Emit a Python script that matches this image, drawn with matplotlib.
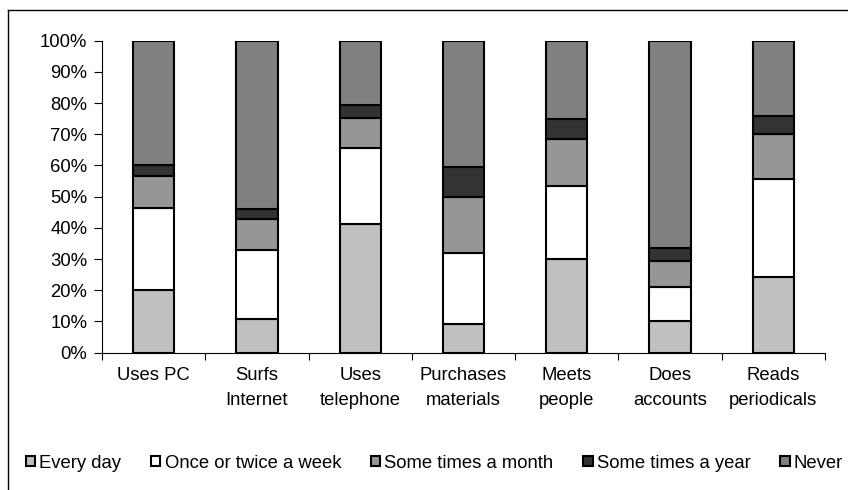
import matplotlib
matplotlib.use("Agg")
import matplotlib.pyplot as plt
from matplotlib.patches import Patch
from matplotlib.lines import Line2D
import numpy as np

plt.rcParams['font.family'] = ['Liberation Sans', 'DejaVu Sans']

categories = ["Uses PC", "Surfs\nInternet", "Uses\ntelephone", "Purchases\nmaterials",
              "Meets\npeople", "Does\naccounts", "Reads\nperiodicals"]
series_names = ["Every day", "Once or twice a week", "Some times a month",
                "Some times a year", "Never"]
every_day = [20.0, 10.8, 41.2, 9.2, 30.1, 10.3, 24.4]
once_twice_week = [26.3, 22.1, 24.3, 22.6, 23.3, 10.6, 31.4]
times_month = [10.4, 9.8, 9.6, 18.2, 15.2, 8.6, 14.4]
times_year = [3.4, 3.2, 4.3, 9.6, 6.2, 4.2, 5.7]
never = [39.9, 54.1, 20.6, 40.4, 25.2, 66.3, 24.1]
series_values = [every_day, once_twice_week, times_month, times_year, never]
colors = ["#C0C0C0", "#FFFFFF", "#969696", "#333333", "#808080"]

fs = 13.3

fig = plt.figure(figsize=(8.48, 4.9), dpi=100)
ax = fig.add_axes([102 / 848, 1 - 352.7 / 490, (825 - 102) / 848, (352.7 - 40.7) / 490])

x = np.arange(len(categories))
bottom = np.zeros(len(categories))
for name, vals, col in zip(series_names, series_values, colors):
    vals = np.array(vals)
    ax.bar(x, vals, width=0.4, bottom=bottom, color=col, edgecolor='black',
           linewidth=1.5, label=name)
    bottom += vals

ax.set_xlim(-0.5, len(categories) - 0.5)
ax.set_ylim(0, 100)
ax.set_yticks(np.arange(0, 101, 10))
ax.set_yticklabels([f"{v}%" for v in range(0, 101, 10)], fontsize=fs)
ax.tick_params(axis='y', direction='out', length=6, width=0.8, pad=4.5)

ax.set_xticks(np.arange(-0.5, len(categories), 1.0))
ax.set_xticklabels([])
ax.tick_params(axis='x', which='major', direction='out', length=5, width=0.8)
ax.set_xticks(x, minor=True)
ax.set_xticklabels(categories, minor=True, fontsize=fs, linespacing=1.65)
ax.tick_params(axis='x', which='minor', length=0, pad=10)

for s in ['top', 'right']:
    ax.spines[s].set_visible(False)
for s in ['left', 'bottom']:
    ax.spines[s].set_linewidth(0.8)

handles = [Patch(facecolor=c, edgecolor='black', linewidth=1.5) for c in colors]
fig.legend(handles, series_names, loc='center left', bbox_to_anchor=(26 / 848, 1 - 463 / 490),
           ncol=5, frameon=False, fontsize=fs, handlelength=0.5, handleheight=0.5,
           handletextpad=0.22, columnspacing=1.62, borderpad=0, borderaxespad=0)

# chart area border (right and bottom are cut off in the image)
fig.add_artist(Line2D([7.5 / 848, 7.5 / 848], [0, 1 - 10 / 490], color='black', lw=1.0))
fig.add_artist(Line2D([7.5 / 848, 1], [1 - 10 / 490, 1 - 10 / 490], color='black', lw=1.0))

fig.savefig("out.png", dpi=100)
